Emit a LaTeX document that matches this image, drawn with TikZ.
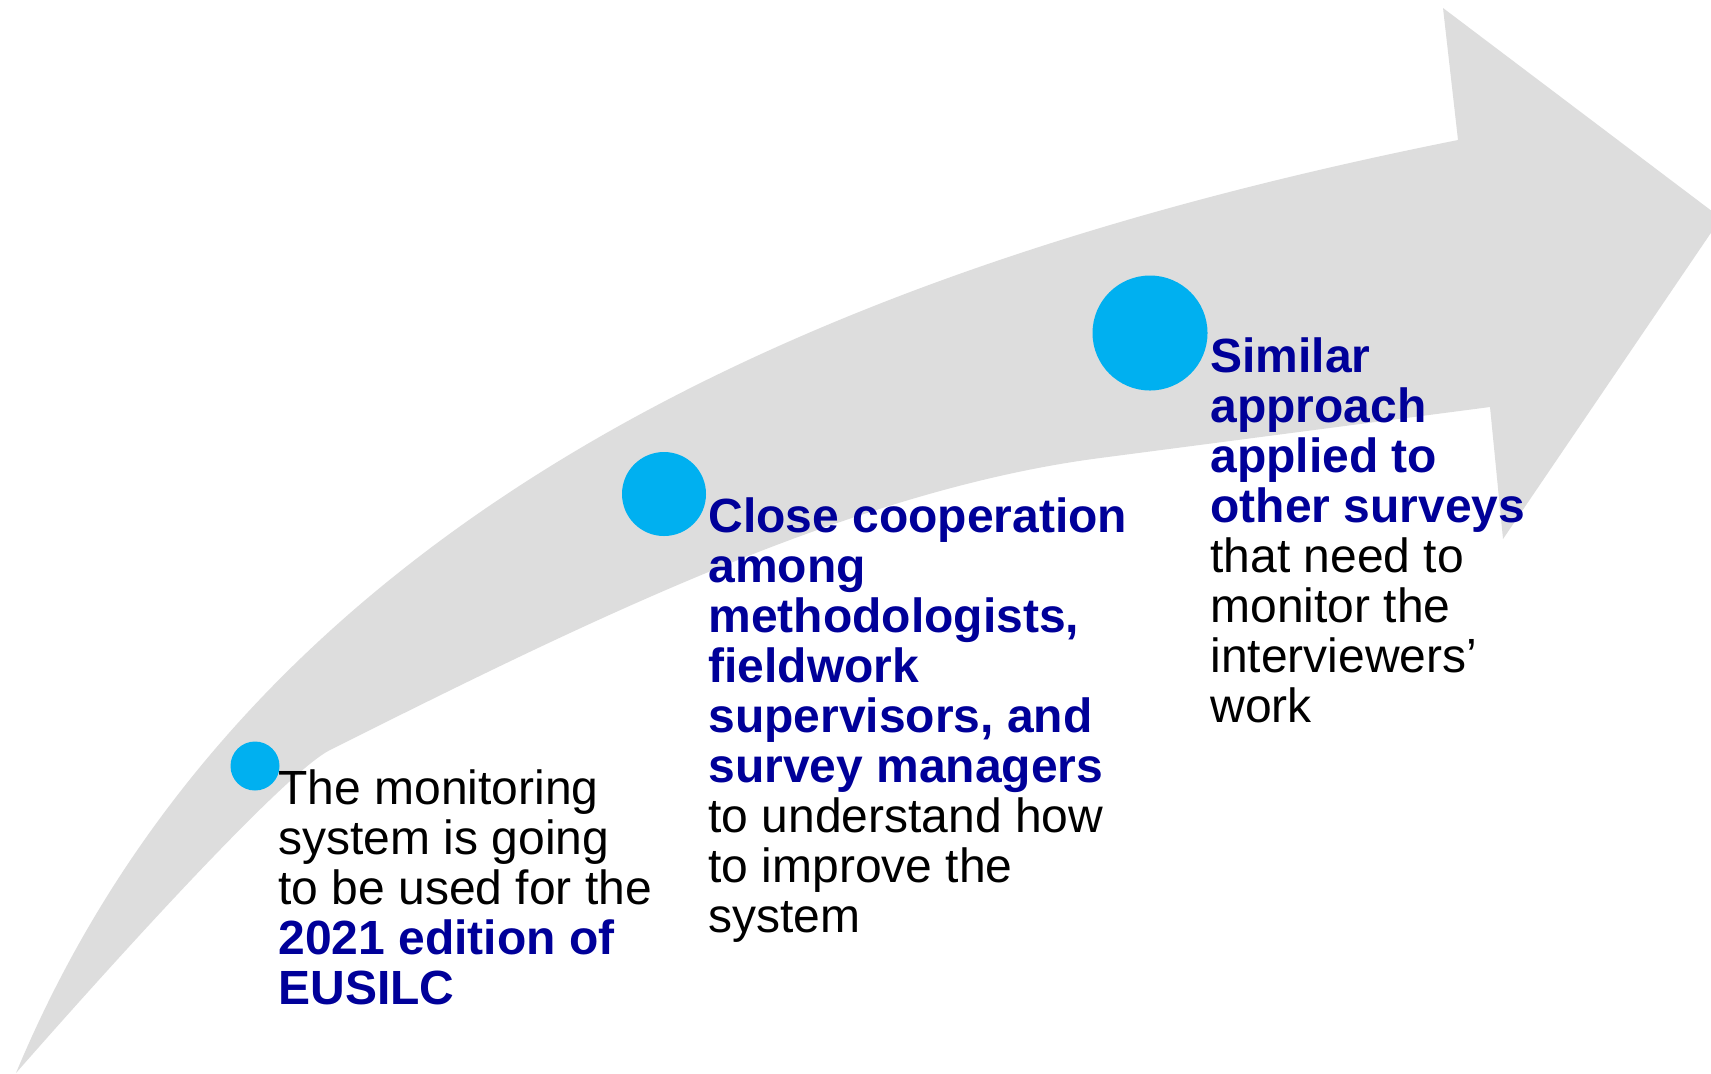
\documentclass[tikz,border=0pt]{standalone}
\usepackage{fontspec}
\setmainfont{Liberation Sans}
\definecolor{bandgray}{HTML}{DDDDDD}
\definecolor{dotblue}{HTML}{00B0F0}
\definecolor{navyblue}{HTML}{000099}
\begin{document}
\begin{tikzpicture}[x=0.5pt,y=-0.5pt,
  dot/.style={circle,fill=dotblue,draw=none,inner sep=0pt,minimum size=#1},
  txt/.style={anchor=north west,inner sep=0pt,align=left,font=\fontsize{24}{25}\selectfont}]
\clip (0,0) rectangle (1711,1073);
\fill[white] (0,0) rectangle (1711,1073);
% curved arrow
\fill[bandgray]
  (16,1073) .. controls (256,497) and (858,260) .. (1458,140)
  -- (1443,8) -- (1721,218) -- (1503,539) -- (1490,407)
  -- (1100,458) .. controls (850,490.5) and (580,625) .. (330,750)
  .. controls (290,770) and (146,925) .. (16,1073) -- cycle;
% dots
\node[dot=24.5pt] (c1) at (255,766) {};
\node[dot=42pt] (c2) at (664,494) {};
\node[dot=57.5pt] (c3) at (1150,333) {};
% texts
\node[txt] (t1) at (278,766) {\rule{0pt}{19pt}The monitoring\\system is going\\to be used for the\\\textcolor{navyblue}{\bfseries 2021 edition of}\\\textcolor{navyblue}{\bfseries EUSILC}};
\node[txt] (t2) at (708,494) {\rule{0pt}{19pt}\textcolor{navyblue}{\bfseries Close cooperation}\\\textcolor{navyblue}{\bfseries among}\\\textcolor{navyblue}{\bfseries methodologists,}\\\textcolor{navyblue}{\bfseries fieldwork}\\\textcolor{navyblue}{\bfseries supervisors, and}\\\textcolor{navyblue}{\bfseries survey managers}\\to understand how\\to improve the\\system};
\node[txt] (t3) at (1210,334) {\rule{0pt}{19pt}\textcolor{navyblue}{\bfseries Similar}\\\textcolor{navyblue}{\bfseries approach}\\\textcolor{navyblue}{\bfseries applied to}\\\textcolor{navyblue}{\bfseries other surveys}\\that need to\\monitor the\\interviewers’\\work};
\end{tikzpicture}
\end{document}
